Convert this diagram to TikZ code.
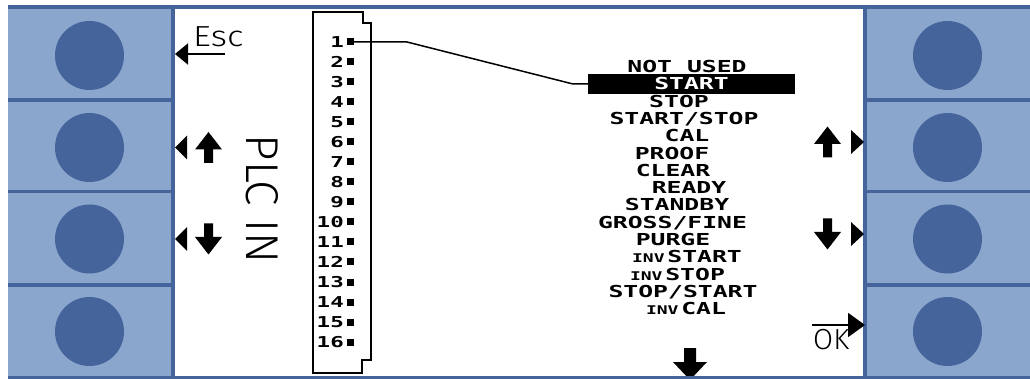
\documentclass[tikz,border=0pt]{standalone}
\usepackage{fontspec}
\usetikzlibrary{arrows.meta,positioning}
\setmainfont{Liberation Sans}
\newfontfamily\lcdfont[FakeStretch=1.5]{DejaVu Sans Mono}
\newfontfamily\thinfont{Fira Sans Light}
\definecolor{panel}{RGB}{139,166,204}
\definecolor{knob}{RGB}{68,100,155}
\newcommand\invtxt{{\fontsize{12}{12}\selectfont INV}}
\tikzset{
	lmark/.pic={\fill (0,0) -- (12,-12) -- (12,12) -- cycle;},
	rmark/.pic={\fill (0,0) -- (-13,-12) -- (-13,12) -- cycle;},
	uparrow/.pic={\fill (0,-15.5) -- (13.5,2) -- (4.5,2) -- (4.5,15.5) -- (-4.5,15.5) -- (-4.5,2) -- (-13.5,2) -- cycle;},
	downarrow/.pic={\fill (0,15.5) -- (13.5,-2) -- (4.5,-2) -- (4.5,-15.5) -- (-4.5,-15.5) -- (-4.5,-2) -- (-13.5,-2) -- cycle;},
}
\begin{document}
\begin{tikzpicture}[
		x=1pt, y=-1pt,
		knob/.style={circle, fill=knob, minimum size=69pt, inner sep=0pt},
		frame/.style={draw=knob, line width=3.5pt},
		item/.style={font=\lcdfont\bfseries\fontsize{16.5}{16.5}\selectfont, inner sep=0pt, text height=12pt, text depth=0pt},
		pinno/.style={font=\lcdfont\bfseries\fontsize{15}{15}\selectfont, inner sep=0pt, anchor=east},
		pin/.style={fill=black, minimum size=7pt, inner sep=0pt},
		label/.style={font=\thinfont\fontsize{29}{29}\selectfont, inner sep=0pt, anchor=south west},
	]
	\useasboundingbox (0,0) rectangle (1030,379);
	\fill[white] (0,0) rectangle (1030,379);
	
	% side panels with the soft keys
	\fill[panel] (8,5) rectangle (173,379);
	\fill[panel] (865,5) rectangle (1030,379);
	\foreach \y [count=\i] in {55.5,147.5,239,331.5} {
		\node[knob] (lk\i) at (89.5,\y) {};
		\node[knob] (rk\i) at (947.5,\y) {};
	}
	\foreach \y in {100,191.5,285} {
		\draw[frame] (8,\y) -- (173,\y);
		\draw[frame] (865,\y) -- (1030,\y);
	}
	\draw[frame] (8,7) -- (1030,7);
	\draw[frame] (173,7) -- (173,379);
	\draw[frame] (865,7) -- (865,379);
	
	% connector with 16 pins
	\draw[line width=2pt] (313,12) -- (363,12) -- (363,23) -- (371,23) -- (371,360) -- (362,360) -- (362,373) -- (313,373) -- cycle;
	\foreach \i in {1,...,16} {
		\node[pinno] (n\i) at (344,{42+20*(\i-1)}) {\i};
		\node[pin, right=3pt of n\i] (p\i) {};
	}
	\node[font=\thinfont\fontsize{46}{46}\selectfont, rotate=-90] (plc) at (262,199) {PLC IN};
	
	% function list
	\node[item, fill=black, text=white, minimum width=207pt, minimum height=20pt] (sel) at (691.5,84) {START};
	\foreach \i/\x/\t in {1/687/NOT USED, 3/679/STOP, 4/684/{START/STOP}, 5/687/CAL, 6/672/PROOF, 7/673/CLEAR, 8/689/READY, 9/677/STANDBY, 10/672.5/{GROSS/FINE}, 11/673/PURGE, 12/687/{\invtxt\,START}, 13/677.5/{\invtxt\,STOP}, 14/683/{STOP/START}, 15/686/{\invtxt\,CAL}}
		\node[item] (f\i) at (\x,{67+17.25*(\i-1)}) {\t};
	
	\coordinate (w1) at (407,42);
	\coordinate (w2) at (573,84);
	\draw[line width=1.5pt] (p1.center) -- (w1) -- (w2) -- (sel.west);
	
	% key markers
	\coordinate (esc0) at (225,54);
	\coordinate (esc1) at (175,54);
	\draw[line width=2pt, -{Triangle[length=13pt, width=21pt]}] (esc0) -- (esc1);
	\node[label] (esc) at (193,47) {\scalebox{1.2}[1]{Esc}};
	\pic at (175,147.5) {lmark};
	\pic at (208.5,147.5) {uparrow};
	\pic at (175,239) {lmark};
	\pic at (208.5,239) {downarrow};
	\pic at (864,142) {rmark};
	\pic at (827.5,142) {uparrow};
	\pic at (864,234) {rmark};
	\pic at (827.5,234) {downarrow};
	\coordinate (ok0) at (812,325);
	\coordinate (ok1) at (865,325);
	\draw[line width=2pt, -{Triangle[length=17pt, width=24pt]}] (ok0) -- (ok1);
	\node[label] (ok) at (813,350) {OK};
	\fill (684,348) -- (696,348) -- (696,362) -- (707,362) -- (690,380) -- (673,362) -- (684,362) -- cycle;
	
	\draw[frame] (8,378) -- (1030,378);
\end{tikzpicture}
\end{document}
